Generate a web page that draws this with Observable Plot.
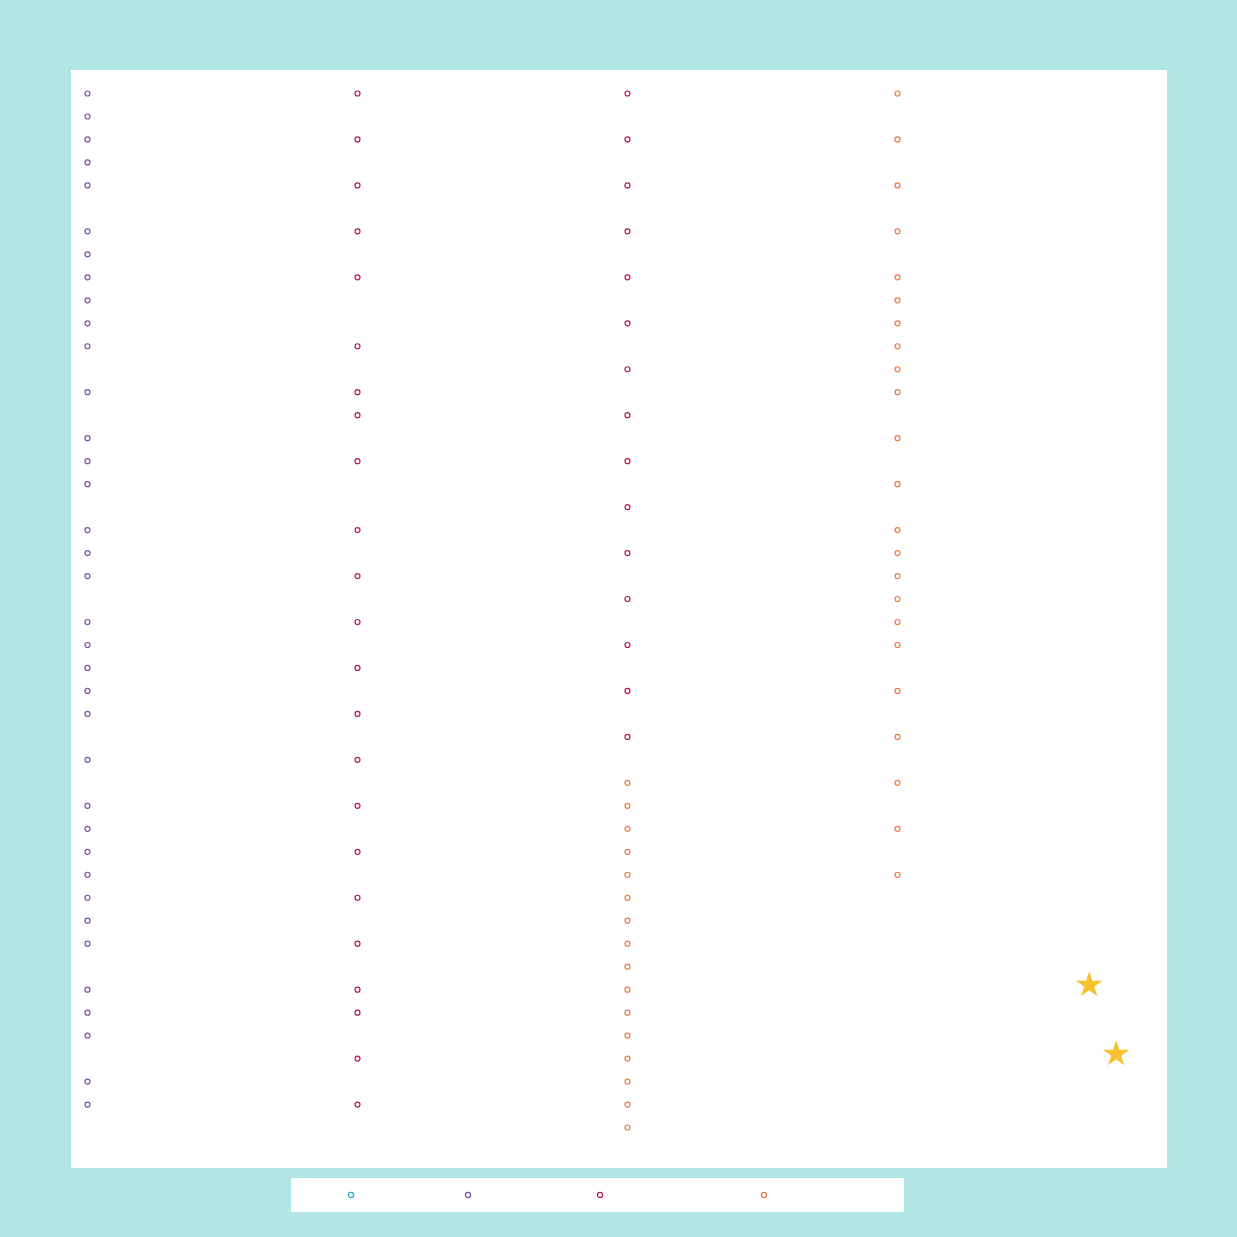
<!DOCTYPE html>
<html>
<head>
<meta charset="utf-8">
<script src="https://cdn.jsdelivr.net/npm/d3@7"></script>
<script src="https://cdn.jsdelivr.net/npm/@observablehq/plot@0.6"></script>
<style>
  html, body { margin: 0; padding: 0; background: #b0e6e3; width: 1237px; height: 1237px; overflow: hidden; font-family: "Noto Sans", sans-serif; }
  #chart { position: absolute; left: 71px; top: 70px; width: 1096px; height: 1098px; background: #ffffff; }
  #legend { position: absolute; left: 291px; top: 1178px; width: 613px; height: 34px; background: #ffffff; }
  #legend svg { position: absolute; top: 0; }
</style>
</head>
<body>
<div id="chart"></div>
<div id="legend"></div>
<script>
// Series (legend order) and colours
const seriesNames = ["Series 1", "Series 2", "Series 3", "Series 4"];
const seriesColors = ["#25a9c4", "#7d4fa6", "#b5174e", "#ea7a45"];

// Dot rows per column, per series
const col0Series2 = [0,1,2,3,4,6,7,8,9,10,11,13,15,16,17,19,20,21,23,24,25,26,27,29,31,32,33,34,35,36,37,39,40,41,43,44];
const col1Series3 = [0,2,4,6,8,11,13,14,16,19,21,23,25,27,29,31,33,35,37,39,40,42,44];
const col2Series3 = [0,2,4,6,8,10,12,14,16,18,20,22,24,26,28];
const col2Series4 = [30,31,32,33,34,35,36,37,38,39,40,41,42,43,44,45];
const col3Series4 = [0,2,4,6,8,9,10,11,12,13,15,17,19,20,21,22,23,24,26,28,30,32,34];

// Highlight stars
const starX = [3.71, 3.81];
const starY = [38.8, 41.8];

const rows = [];
const add = (col, list, s) => list.forEach(r => rows.push({col, row: r, series: s}));
add(0, col0Series2, seriesNames[1]);
add(1, col1Series3, seriesNames[2]);
add(2, col2Series3, seriesNames[2]);
add(2, col2Series4, seriesNames[3]);
add(3, col3Series4, seriesNames[3]);
const stars = starX.map((x, i) => ({x, y: starY[i]}));

const chart = Plot.plot({
  width: 1096,
  height: 1098,
  marginLeft: 16,
  marginRight: 0,
  marginTop: 23,
  marginBottom: 18,
  x: {domain: [0, 4], axis: null},
  y: {domain: [0, 46], reverse: true, axis: null},
  color: {domain: seriesNames, range: seriesColors},
  style: {background: "transparent"},
  marks: [
    Plot.dot(rows, {x: "col", y: "row", stroke: "series", r: 2.5, strokeWidth: 1.2, fill: "none"}),
    Plot.dot(stars, {x: "x", y: "y", symbol: "star", r: 8.3, fill: "#f7c12f", stroke: "none"})
  ]
});
document.getElementById("chart").appendChild(chart);

// Legend: swatches only
const legendX = [60, 177, 309, 473];
const legend = document.getElementById("legend");
seriesNames.forEach((name, i) => {
  const ns = "http://www.w3.org/2000/svg";
  const svg = document.createElementNS(ns, "svg");
  svg.setAttribute("width", 10);
  svg.setAttribute("height", 34);
  svg.style.left = (legendX[i] - 5) + "px";
  const c = document.createElementNS(ns, "circle");
  c.setAttribute("cx", 5); c.setAttribute("cy", 17); c.setAttribute("r", 2.6);
  c.setAttribute("fill", "none"); c.setAttribute("stroke", seriesColors[i]); c.setAttribute("stroke-width", 1.2);
  const t = document.createElementNS(ns, "title"); t.textContent = name;
  svg.appendChild(t);
  svg.appendChild(c);
  legend.appendChild(svg);
});
</script>
</body>
</html>
